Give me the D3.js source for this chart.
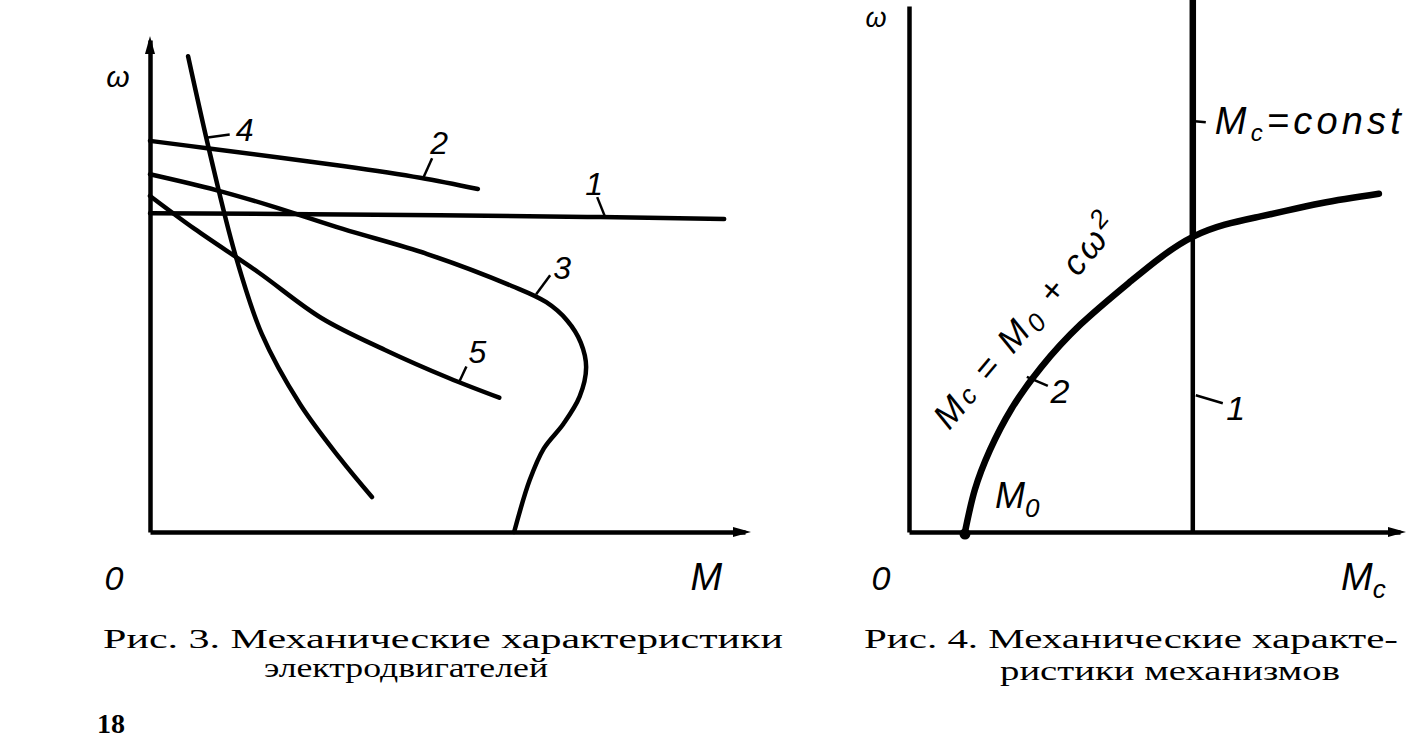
<!DOCTYPE html>
<html><head><meta charset="utf-8">
<script src="https://cdn.jsdelivr.net/npm/d3@7"></script>
<style>body{margin:0;background:#fff} svg{display:block}</style>
</head><body><svg id="c" width="1411" height="742"></svg>
<script>
// ---------- Fig. 3: motor characteristics  (M, ω) in relative units ----------
const fig3Curve1 = [[0,6.48],[4.87,6.44],[7.56,6.40],[9.65,6.36]];
const fig3Curve2 = [[0,7.95],[0.96,7.80],[3.24,7.44],[4.54,7.20],[5.51,6.97]];
const fig3Curve3 = [[0,7.27],[1.11,6.95],[2.03,6.63],[3.24,6.16],[4.66,5.65],[6.08,5.00],[6.66,4.67],
                    [7.01,4.30],[7.24,3.85],[7.33,3.35],[7.22,2.75],[6.95,2.20],[6.62,1.70],[6.38,1.05],[6.12,0]];
const fig3Curve4 = [[0.64,9.67],[1.01,7.68],[1.43,5.65],[1.88,4.02],[2.52,2.60],[3.19,1.50],[3.73,0.71]];
const fig3Curve5 = [[0,6.83],[0.75,6.16],[1.82,5.28],[2.88,4.35],[3.95,3.70],[5.02,3.13],[5.87,2.73]];
const fig3Names = ["1","2","3","4","5"];
const fig3Caption = ["Рис. 3. Механические характеристики", "электродвигателей"];

// ---------- Fig. 4: mechanism characteristics (Mc, ω) ----------
const fig4Const = 5.78;                // curve 1: Mc = const
const fig4M0 = 1.14;                   // starting torque M0
const fig4Curve2 = [[1.14,0],[1.34,0.80],[1.65,1.56],[2.08,2.33],[2.69,3.13],[3.50,3.95],[4.52,4.77],
                    [5.80,5.62],[7.16,6.00],[8.39,6.25],[9.57,6.43]];
const fig4Names = ["1","2"];
const fig4Caption = ["Рис. 4. Механические характе-", "ристики механизмов"];
const pageNumber = "18";

const svg = d3.select("#c");
const hand = "'Liberation Sans', 'DejaVu Sans', sans-serif";
const serif = "'Liberation Serif', 'DejaVu Serif', serif";

// scales
const x3 = d3.scaleLinear().domain([0,10]).range([150,745]);
const y3 = d3.scaleLinear().domain([0,10]).range([532,40]);
const x4 = d3.scaleLinear().domain([0,10]).range([909,1400]);
const y4 = d3.scaleLinear().domain([0,10]).range([532,6]);

function axes(g, xs, ys, yArrow){
  g.append("g").attr("transform",`translate(0,${ys(0)})`)
    .call(d3.axisBottom(xs).ticks(0).tickSizeOuter(0));
  g.append("g").attr("transform",`translate(${xs(0)},0)`)
    .call(d3.axisLeft(ys).ticks(0).tickSizeOuter(0));
  g.selectAll(".domain").attr("stroke","#000").attr("stroke-width",4.5);
  const xe = xs.range()[1], y0 = ys(0);
  g.append("path").attr("d",`M${xe+6},${y0} L${xe-12},${y0-5} L${xe-12},${y0+5} Z`).attr("fill","#000");
  if (yArrow){
    const ye = ys.range()[1], x0 = xs(0);
    g.append("path").attr("d",`M${x0},${ye-4} L${x0-5},${ye+14} L${x0+5},${ye+14} Z`).attr("fill","#000");
  }
}

function label(g, txt, x, y, size, anchor="middle"){
  return g.append("text").attr("x",x).attr("y",y).attr("text-anchor",anchor)
    .attr("font-family",hand).attr("font-style","italic").attr("font-size",size).text(txt);
}

// ================= Fig 3 =================
const g3 = svg.append("g");
axes(g3, x3, y3, true);
const line3 = d3.line().x(d=>x3(d[0])).y(d=>y3(d[1])).curve(d3.curveCatmullRom.alpha(0.5));
const curves3 = [fig3Curve1, fig3Curve2, fig3Curve3, fig3Curve4, fig3Curve5];
g3.selectAll("path.crv").data(curves3).join("path").attr("class","crv")
  .attr("d",line3).attr("fill","none").attr("stroke","#000").attr("stroke-width",4.5)
  .attr("stroke-linecap","round");

// annotations: anchor on curve (data), leader end & text offsets (px)
const ann3 = [
  {i:0, a:[7.65,6.40], l:[-8,-20], t:[-11,-22]},
  {i:1, a:[4.59,7.19], l:[9,-20], t:[16,-24]},
  {i:2, a:[6.49,4.83], l:[14,-19], t:[26,-15]},
  {i:3, a:[0.97,8.02], l:[22,-3], t:[37,4]},
  {i:4, a:[5.20,3.06], l:[7,-15], t:[18,-18]}
];
ann3.forEach(o=>{
  const ax = x3(o.a[0]), ay = y3(o.a[1]);
  g3.append("line").attr("x1",ax).attr("y1",ay).attr("x2",ax+o.l[0]).attr("y2",ay+o.l[1])
    .attr("stroke","#000").attr("stroke-width",2.5);
  label(g3, fig3Names[o.i], ax+o.t[0], ay+o.t[1], 32);
});
label(g3, "ω", x3(0)-32, y3(9.05), 30);
label(g3, "0", x3(0)-36, y3(0)+58, 34);
label(g3, "M", x3(9.35), y3(0)+58, 38);

// ================= Fig 4 =================
const g4 = svg.append("g");
axes(g4, x4, y4, false);
const line4 = d3.line().x(d=>x4(d[0])).y(d=>y4(d[1])).curve(d3.curveNatural);
// curve 1 (vertical): thick upper part, thinner lower part
g4.append("line").attr("x1",x4(fig4Const)).attr("x2",x4(fig4Const))
  .attr("y1",y4(0)).attr("y2",y4(5.63)).attr("stroke","#000").attr("stroke-width",4.5);
g4.append("line").attr("x1",x4(fig4Const)).attr("x2",x4(fig4Const))
  .attr("y1",y4(5.63)).attr("y2",0).attr("stroke","#000").attr("stroke-width",6.5);
// curve 2
g4.append("path").datum(fig4Curve2).attr("d",line4).attr("fill","none")
  .attr("stroke","#000").attr("stroke-width",6.5).attr("stroke-linecap","round");
g4.append("circle").attr("cx",x4(fig4M0)).attr("cy",y4(0)+2).attr("r",5.5).attr("fill","#000");

// labels
const ann4 = [
  {i:0, ax:x4(fig4Const)+3, ay:y4(2.6), l:[27,8], t:[40,25]},
  {i:1, ax:x4(2.40), ay:y4(2.95), l:[21,9], t:[33,26]}
];
ann4.forEach(o=>{
  g4.append("line").attr("x1",o.ax).attr("y1",o.ay).attr("x2",o.ax+o.l[0]).attr("y2",o.ay+o.l[1])
    .attr("stroke","#000").attr("stroke-width",2.5);
  label(g4, fig4Names[o.i], o.ax+o.t[0], o.ay+o.t[1], 34);
});
// "Mc = const"
const cx0 = x4(fig4Const);
g4.append("line").attr("x1",cx0+2).attr("y1",y4(7.81)).attr("x2",cx0+13).attr("y2",y4(7.79))
  .attr("stroke","#000").attr("stroke-width",2.5);
const tc = label(g4, "", cx0+22, y4(7.57), 38, "start");
tc.append("tspan").text("M");
tc.append("tspan").attr("font-size",24).attr("dy",7).text("c");
tc.append("tspan").attr("dy",-7).text("=const");
tc.attr("textLength",186).attr("lengthAdjust","spacing");

// M0
const tm = label(g4, "", x4(1.75), y4(0.45), 36, "start");
tm.append("tspan").text("M");
tm.append("tspan").attr("font-size",26).attr("dy",9).text("0");

// rotated formula
const tf = g4.append("text").attr("font-family",hand).attr("font-style","italic").attr("font-size",35)
  .attr("transform",`translate(${x4(0.82)},${y4(1.92)}) rotate(-50)`);
tf.append("tspan").text("M");
tf.append("tspan").attr("font-size",26).text("c");
tf.append("tspan").text(" = M");
tf.append("tspan").attr("font-size",26).attr("dy",6).text("0");
tf.append("tspan").attr("dy",-6).text(" + cω");
tf.append("tspan").attr("font-size",26).attr("dy",-13).text("2");
tf.attr("textLength",266).attr("lengthAdjust","spacing");

label(g4, "ω", x4(0)-33, 27, 27);
label(g4, "0", x4(0)-28, y4(0)+58, 34);
const tmc = label(g4, "", x4(8.8), y4(0)+58, 38, "start");
tmc.append("tspan").text("M");
tmc.append("tspan").attr("font-size",26).attr("dy",8).text("c");

// ================= captions =================
function cap(txt, x, y, w, size){
  svg.append("text").attr("x",x).attr("y",y).attr("font-family",serif).attr("font-size",size)
    .attr("textLength",w).attr("lengthAdjust","spacingAndGlyphs").text(txt);
}
cap(fig3Caption[0], 103, 648, 680, 27);
cap(fig3Caption[1], 264, 677, 284, 27);
cap(fig4Caption[0], 864, 648, 534, 27);
cap(fig4Caption[1], 1000, 680, 340, 27);
svg.append("text").attr("x",97).attr("y",733).attr("font-family",serif).attr("font-weight","bold")
  .attr("font-size",28).text(pageNumber);
</script></body></html>
